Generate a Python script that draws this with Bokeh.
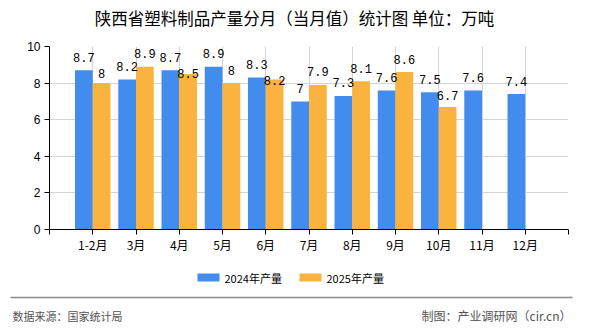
from bokeh.plotting import figure
from bokeh.layouts import column
from bokeh.models import Range1d, FixedTicker, ColumnDataSource
from bokeh.core.properties import value
from bokeh.embed import file_html
from bokeh.resources import INLINE

categories = ["1-2月", "3月", "4月", "5月", "6月", "7月", "8月", "9月", "10月", "11月", "12月"]
values_2024 = [8.7, 8.2, 8.7, 8.9, 8.3, 7.0, 7.3, 7.6, 7.5, 7.6, 7.4]
values_2025 = [8.0, 8.9, 8.5, 8.0, 8.2, 7.9, 8.1, 8.6, 6.7, None, None]
series_names = ["2024年产量", "2025年产量"]
title_text = "陕西省塑料制品产量分月（当月值）统计图 单位：万吨"
source_text = "数据来源：国家统计局"
credit_text = "制图：产业调研网（cir.cn）"

BLUE = "#428CEE"
ORANGE = "#FBB33F"
CJK = "Noto Sans CJK SC"
W = 590


def blank(h):
    f = figure(width=W, height=h, output_backend="svg", toolbar_location=None,
               x_range=Range1d(0, W), y_range=Range1d(0, h),
               x_axis_type=None, y_axis_type=None,
               min_border=0, min_border_left=0, min_border_right=0,
               min_border_top=0, min_border_bottom=0, frame_align=False)
    f.title.visible = False
    f.outline_line_color = None
    f.xgrid.visible = False
    f.ygrid.visible = False
    return f


# ---- title strip ----
top = blank(36)
top.text(x=[W / 2 - 1], y=[36 - 17.5], text=[title_text], text_align="center", text_baseline="middle",
         text_font=value(CJK), text_font_size="16.5px", text_color="#000000")

# ---- main chart ----
pos = list(range(1, len(categories) + 1))
bw = 0.41
off = 0.205

p = figure(width=W, height=222, output_backend="svg", toolbar_location=None,
           x_range=Range1d(0, len(categories) + 1), y_range=Range1d(0, 10),
           min_border_left=49, min_border_right=22, min_border_top=10, min_border_bottom=29,
           frame_align=False)
p.title.visible = False
p.outline_line_color = None

s1 = ColumnDataSource(dict(x=[x - off for x in pos], top=values_2024))
x2 = [x + off for x, v in zip(pos, values_2025) if v is not None]
v2 = [v for v in values_2025 if v is not None]
s2 = ColumnDataSource(dict(x=x2, top=v2))
p.vbar(x="x", top="top", width=bw, source=s1, fill_color=BLUE, line_color=None)
p.vbar(x="x", top="top", width=bw, source=s2, fill_color=ORANGE, line_color=None)

px_per_unit = 183 / 10.0
lab_off = 13 / px_per_unit
l1y = [v + lab_off for v in values_2024]
l2y = []
for i, v in enumerate(values_2025):
    if v is None:
        continue
    y = v + lab_off
    b = values_2024[i]
    if b > v and (b + lab_off) - y < 16 / px_per_unit:
        y = (b + lab_off) - 16 / px_per_unit
    l2y.append(y)
p.text(x=[x - off for x in pos], y=l1y, text=[f"{v:g}" for v in values_2024],
       text_align="center", text_baseline="middle", text_font=value("Liberation Mono"),
       text_font_size="12px", text_color="#000000")
p.text(x=x2, y=l2y, text=[f"{v:g}" for v in v2],
       text_align="center", text_baseline="middle", text_font=value("Liberation Mono"),
       text_font_size="12px", text_color="#000000")

xa = p.xaxis[0]
xa.ticker = FixedTicker(ticks=list(range(0, len(categories) + 2)))
overrides = {i + 1: c for i, c in enumerate(categories)}
overrides.update({0: "", len(categories) + 1: ""})
xa.major_label_overrides = overrides
xa.major_tick_in = 0
xa.major_tick_out = 5
xa.minor_tick_out = 0
xa.minor_tick_in = 0
xa.axis_line_color = "black"
xa.major_tick_line_color = "black"
xa.major_label_text_font = CJK
xa.major_label_text_font_size = "12px"
xa.major_label_text_color = "#000000"
xa.major_label_standoff = 1

ya = p.yaxis[0]
ya.ticker = FixedTicker(ticks=[0, 2, 4, 6, 8, 10])
ya.major_tick_in = 0
ya.major_tick_out = 5
ya.minor_tick_out = 0
ya.minor_tick_in = 0
ya.axis_line_color = "black"
ya.major_tick_line_color = "black"
ya.major_label_text_font = "Liberation Sans"
ya.major_label_text_font_size = "12px"
ya.major_label_text_color = "#000000"
ya.major_label_standoff = 4

p.xgrid.ticker = FixedTicker(ticks=list(range(0, len(categories) + 2)))
p.ygrid.ticker = FixedTicker(ticks=[0, 2, 4, 6, 8, 10])
p.xgrid.grid_line_color = "#d4d4d4"
p.ygrid.grid_line_color = "#d4d4d4"

# ---- legend + footer strip (canvas y 258..330) ----
H = 72
bot = blank(H)
ly = H - 19
bot.rect(x=[208, 310], y=[ly, ly], width=22, height=8, fill_color=[BLUE, ORANGE], line_color=None)
bot.text(x=[224, 326], y=[ly, ly], text=series_names, text_align="left", text_baseline="middle",
         text_font=value(CJK), text_font_size="11px", text_color="#000000")
bot.segment(x0=[10], y0=[H - 39], x1=[572], y1=[H - 39], line_color="#888888", line_width=1.5)
bot.text(x=[12], y=[H - 57], text=[source_text], text_align="left", text_baseline="middle",
         text_font=value(CJK), text_font_size="11px", text_color="#555555")
bot.text(x=[571], y=[H - 57], text=[credit_text], text_align="right", text_baseline="middle",
         text_font=value(CJK), text_font_size="12px", text_color="#555555")

layout = column(top, p, bot, spacing=0)
open("out.html", "w").write(file_html(layout, INLINE))
